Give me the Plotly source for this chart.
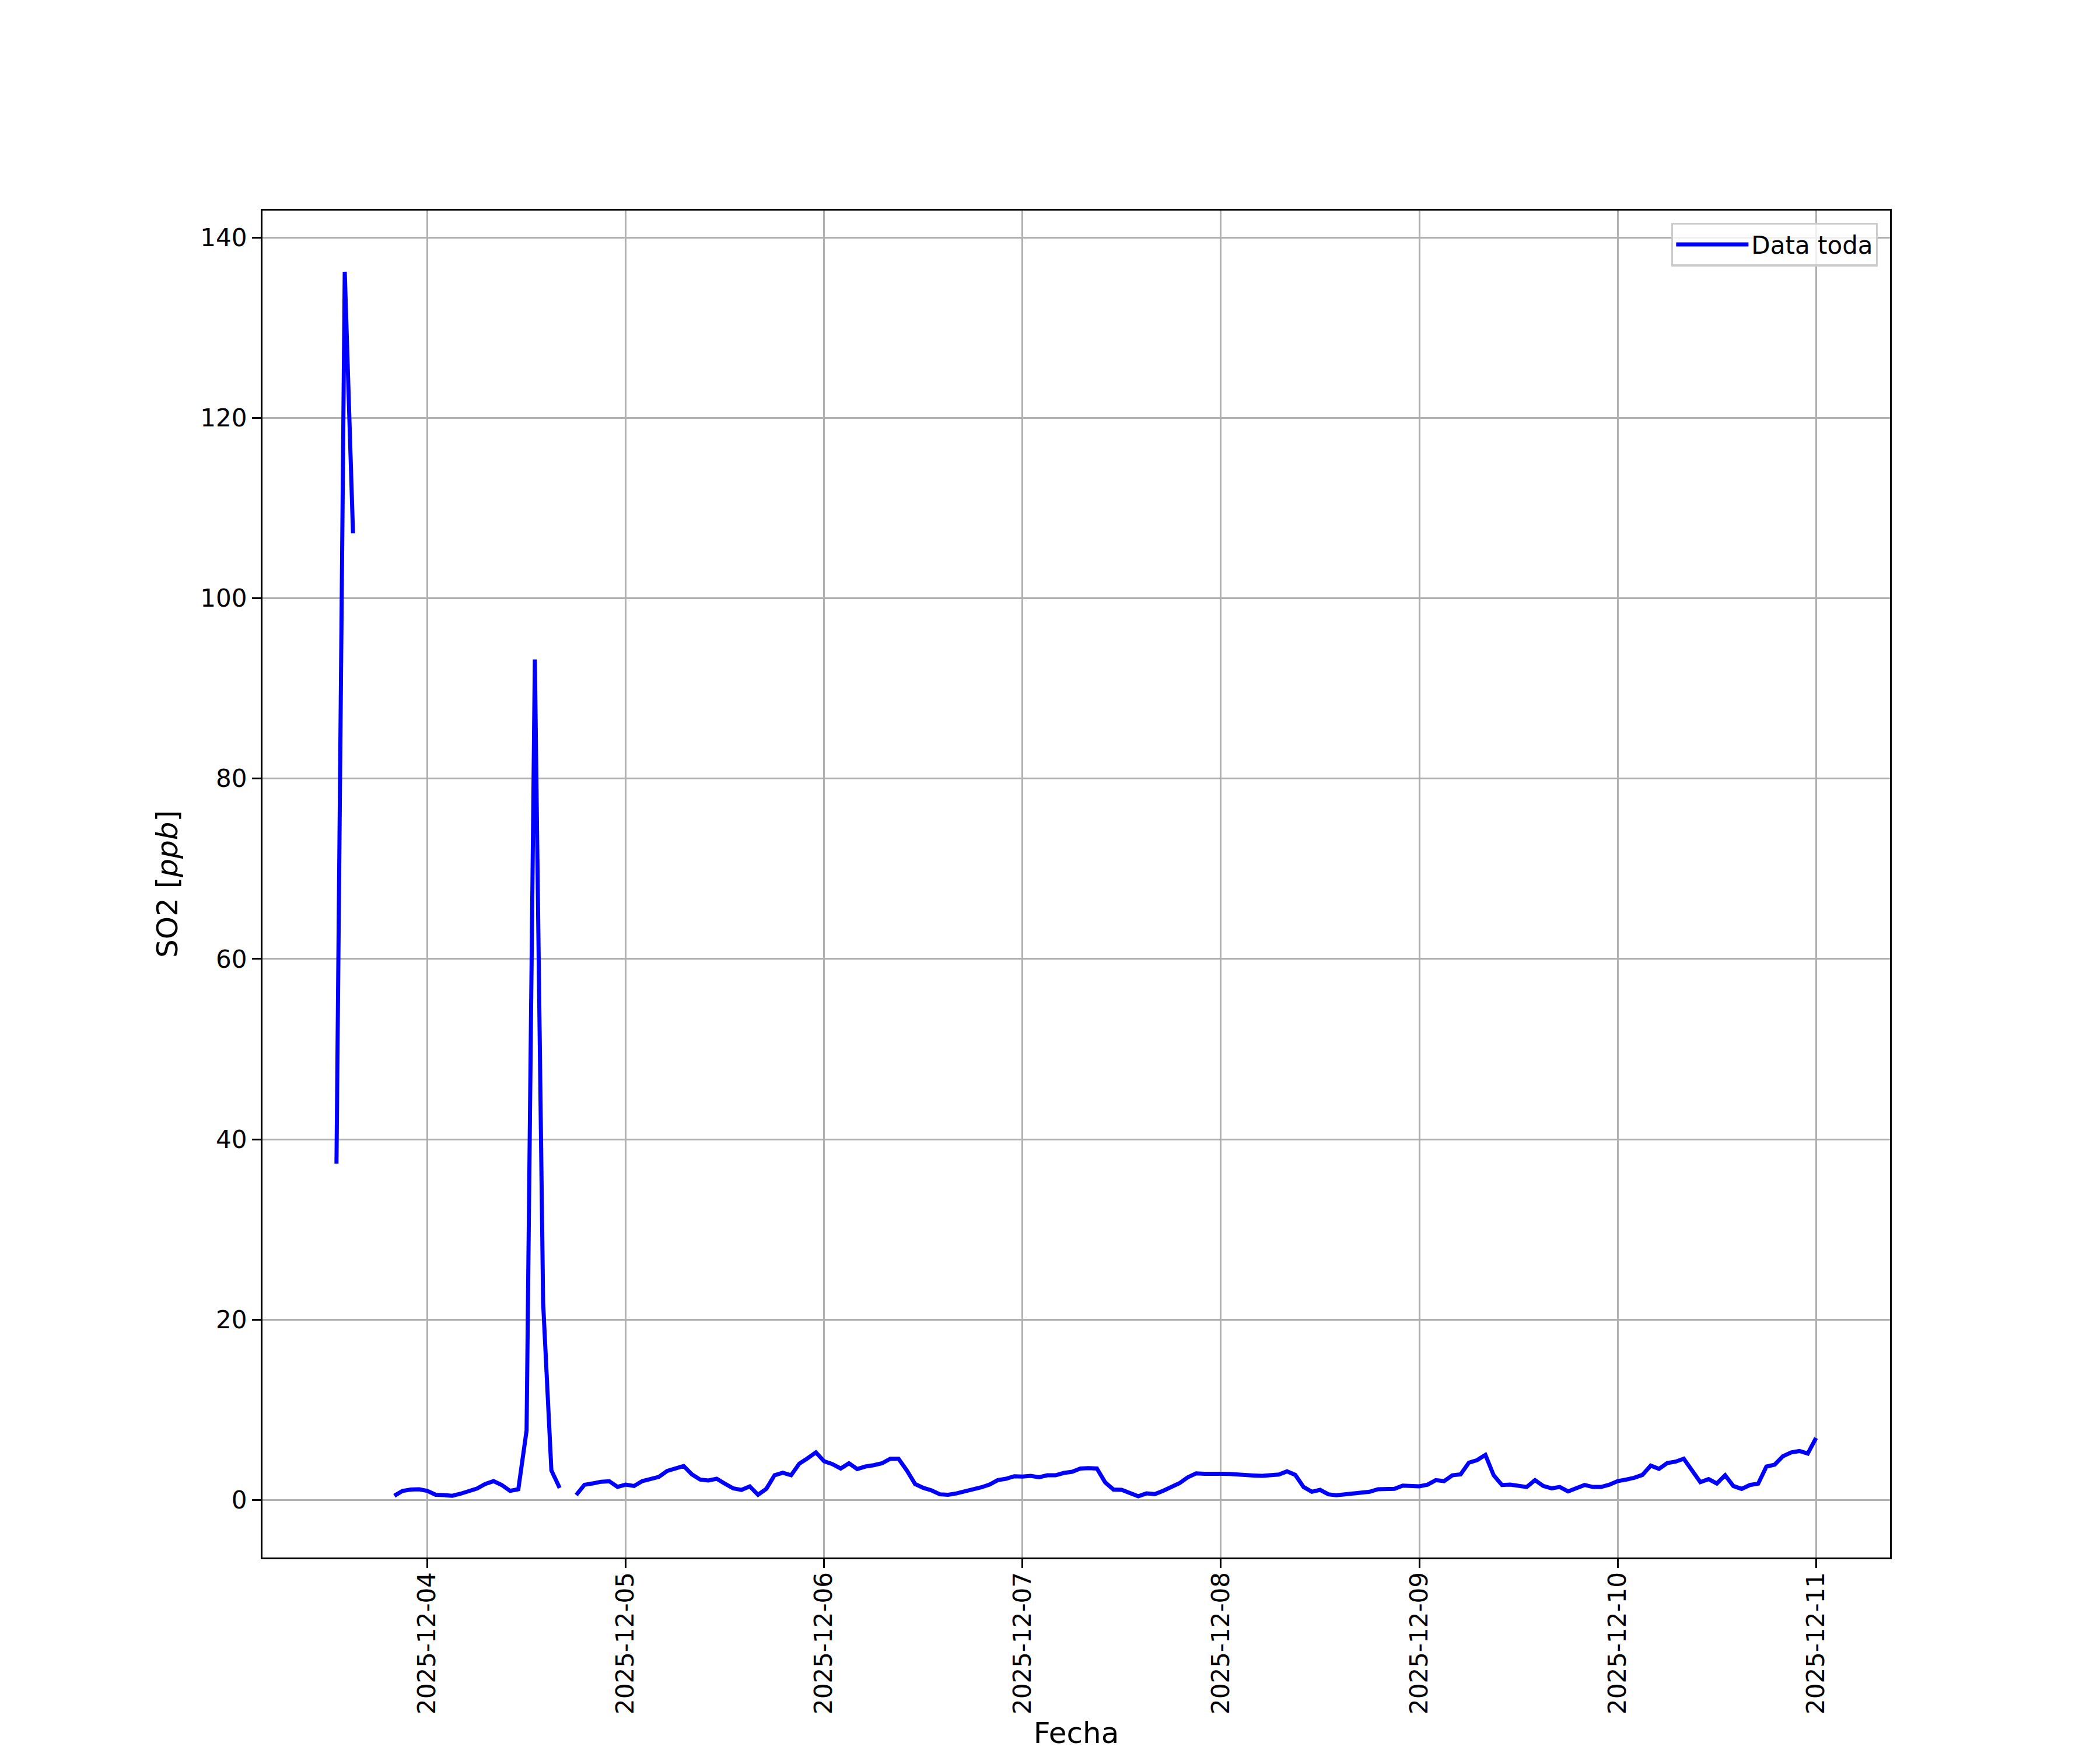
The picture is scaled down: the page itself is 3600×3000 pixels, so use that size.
import pandas as pd
import plotly.graph_objects as go

# Hourly SO2 readings [ppb]; None = missing hour (gap in the line)
start_time = "2025-12-03 13:00"
so2_dec03 = [37.3, 136.2, 107.2, None, None, None, None, 0.47, 1.01, 1.16, 1.19]
so2_dec04 = [1.01, 0.58, 0.54, 0.47, 0.69, 0.97, 1.27, 1.77, 2.09, 1.66, 1.01, 1.19,
             7.7, 93.2, 21.9, 3.28, 1.34, None, 0.55, 1.68, 1.84, 2.02, 2.08, 1.45]
so2_dec05 = [1.70, 1.55, 2.09, 2.37, 2.56, 3.21, 3.49, 3.77, 2.84, 2.26, 2.16, 2.35,
             1.81, 1.29, 1.12, 1.51, 0.58, 1.23, 2.74, 3.02, 2.74, 4.03, 4.63, 5.28]
so2_dec06 = [4.29, 3.97, 3.49, 4.07, 3.43, 3.71, 3.86, 4.07, 4.57, 4.57, 3.28, 1.77,
             1.34, 1.06, 0.63, 0.58, 0.73, 0.95, 1.12, 1.40, 1.70, 2.20, 2.35, 2.63]
so2_dec07 = [2.59, 2.67, 2.52, 2.74, 2.74, 3.00, 3.13, 3.49, 3.53, 3.49, 1.95, 1.16,
             1.12, 0.80, 0.41, 0.73, 0.65, 1.01, 1.40, 1.87, 2.52, 2.95, 2.91, 2.95]
so2_dec08 = [2.91, 2.89, 2.82, 2.69, 2.71, 2.67, 2.69, 2.82, 3.17, 2.78, 1.44, 0.91,
             1.12, 0.63, 0.52, 0.62, 0.67, 0.73, 0.91, 1.19, 1.21, 1.23, 1.59, 1.53]
so2_dec09 = [1.51, 1.70, 2.20, 2.09, 2.74, 2.84, 4.14, 4.42, 5.00, 2.74, 1.66, 1.70,
             1.62, 1.44, 2.20, 1.55, 1.29, 1.44, 0.95, 1.34, 1.66, 1.44, 1.44, 1.70]
so2_dec10 = [2.09, 2.26, 2.46, 2.78, 3.81, 3.45, 4.09, 4.25, 4.57, 3.28, 1.98, 2.31,
             1.83, 2.74, 1.55, 1.23, 1.66, 1.81, 3.71, 3.92, 4.85, 5.28, 5.43, 5.15]
so2_dec11 = [6.88]

x_ticks = ["2025-12-04", "2025-12-05", "2025-12-06", "2025-12-07",
           "2025-12-08", "2025-12-09", "2025-12-10", "2025-12-11"]
y_ticks = [0, 20, 40, 60, 80, 100, 120, 140]

values = (so2_dec03 + so2_dec04 + so2_dec05 + so2_dec06 + so2_dec07 +
          so2_dec08 + so2_dec09 + so2_dec10 + so2_dec11)
times = pd.date_range(start=start_time, periods=len(values), freq="h")

# matplotlib-like 5% auto margins
t0, t1 = times[0], times[-1]
span = t1 - t0
x_range = [(t0 - 0.05 * span).strftime("%Y-%m-%d %H:%M:%S"),
           (t1 + 0.05 * span).strftime("%Y-%m-%d %H:%M:%S")]
vals = [v for v in values if v is not None]
vmin, vmax = min(vals), max(vals)
vspan = vmax - vmin
y_range = [vmin - 0.05 * vspan, vmax + 0.05 * vspan]

fig = go.Figure()
fig.add_trace(go.Scatter(
    x=[t.strftime("%Y-%m-%d %H:%M:%S") for t in times],
    y=values,
    mode="lines",
    name="Data toda",
    line=dict(color="#0000ff", width=7),
    connectgaps=False,
))

axis_common = dict(
    showline=True, linecolor="black", linewidth=3.3, mirror=True,
    showgrid=True, gridcolor="#b0b0b0", gridwidth=3.3,
    ticks="outside", ticklen=15, tickwidth=3.3, tickcolor="black",
    zeroline=False,
    tickfont=dict(family="DejaVu Sans", size=42, color="black"),
)

fig.update_xaxes(
    range=x_range,
    tickmode="array",
    tickvals=x_ticks,
    ticktext=x_ticks,
    tickangle=-90,
    ticklabelstandoff=-10,
    title=dict(text="Fecha", font=dict(family="DejaVu Sans", size=50, color="black"), standoff=40),
    **axis_common,
)
fig.update_yaxes(
    range=y_range,
    tickmode="array",
    tickvals=y_ticks,
    ticktext=[str(v) for v in y_ticks],
    title=dict(text="SO2 [<i>ppb</i>]", font=dict(family="DejaVu Sans", size=50, color="black"), standoff=23),
    **axis_common,
)

fig.update_layout(
    width=3592, height=2992,
    margin=dict(l=442, r=360, t=353, b=330, autoexpand=False),
    paper_bgcolor="white", plot_bgcolor="white",
    font=dict(family="DejaVu Sans", size=42, color="black"),
    showlegend=True,
    legend=dict(
        x=0.9925, y=0.991, xanchor="right", yanchor="top",
        bgcolor="rgba(255,255,255,0.8)",
        bordercolor="#cccccc", borderwidth=3.3,
        font=dict(family="DejaVu Sans", size=42, color="black"),
        itemwidth=124,
        tracegroupgap=0,
    ),
)

fig.write_html("out.html")
